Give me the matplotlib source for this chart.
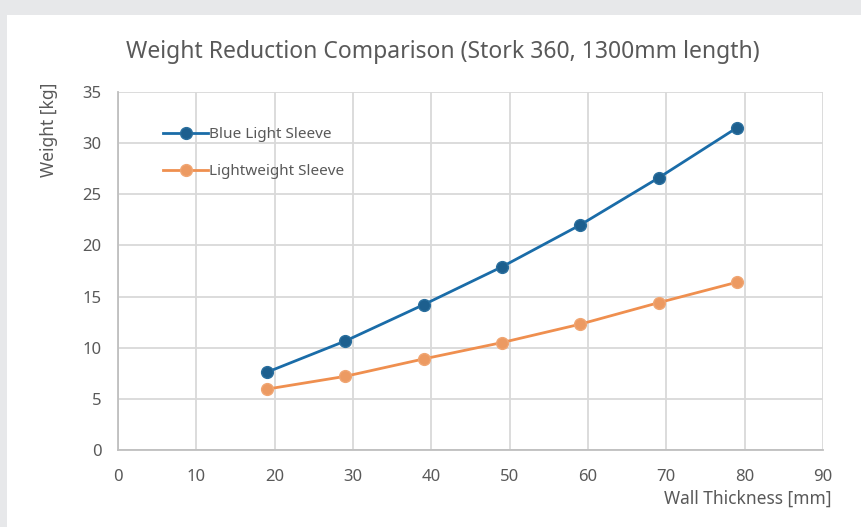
import numpy as np
import matplotlib.pyplot as plt
from matplotlib.patches import Rectangle

# wall thickness values and weights
wall_thickness = [19, 29, 39, 49, 59, 69, 79]
blue_light = [7.6, 10.65, 14.2, 17.9, 22.0, 26.6, 31.5]
lightweight = [5.95, 7.2, 8.9, 10.5, 12.3, 14.4, 16.4]

x_ticks = np.arange(0, 91, 10)
y_ticks = np.arange(0, 36, 5)

plt.rcParams['font.family'] = ['Noto Sans', 'DejaVu Sans']
text_col = '#595959'

fig = plt.figure(figsize=(8.61, 5.27), dpi=100, facecolor='#e7e8ea')
# white chart area inside gray frame
bg = Rectangle((7 / 861, 0), 1 - 7 / 861, 1 - 15 / 527,
               transform=fig.transFigure, facecolor='white',
               edgecolor='none', zorder=-10)
fig.add_artist(bg)

ax = fig.add_axes([118 / 861, 77 / 527, 705 / 861, 358 / 527])
ax.set_zorder(1)
ax.set_facecolor('white')

ax.plot(wall_thickness, blue_light, color='#1a6ca8', lw=2, marker='o',
        markersize=8.5, markerfacecolor='#1d5f8e', markeredgecolor='#2a6f9e',
        label='Blue Light Sleeve', zorder=3)
ax.plot(wall_thickness, lightweight, color='#ef8f4f', lw=2, marker='o',
        markersize=8.5, markerfacecolor='#ec9a62', markeredgecolor='#f0a673',
        label='Lightweight Sleeve', zorder=3)

ax.set_xlim(0, 90)
ax.set_ylim(0, 35)
ax.set_xticks(x_ticks)
ax.set_yticks(y_ticks)
ax.grid(color='#d9d9d9', lw=1.3)
ax.set_axisbelow(True)
for s in ['top', 'right']:
    ax.spines[s].set_visible(False)
for s in ['left', 'bottom']:
    ax.spines[s].set_color('#bfbfbf')
    ax.spines[s].set_linewidth(1.3)
ax.tick_params(length=0, labelsize=12, labelcolor=text_col)
ax.tick_params(axis='x', pad=14)
ax.tick_params(axis='y', pad=12)

# title centred on the whole chart area, not the axes
fig.text(443 / 861, 1 - 52 / 527,
         'Weight Reduction Comparison (Stork 360, 1300mm length)',
         fontsize=16.5, color=text_col, ha='center', va='center')

ax.set_xlabel('Wall Thickness [mm]', fontsize=12.5, color=text_col, loc='right')
ax.xaxis.set_label_coords(1.012, -0.11)
ax.set_ylabel('Weight [kg]', fontsize=12.5, color=text_col, loc='top')
ax.yaxis.set_label_coords(-0.085, 1.025)

leg = ax.legend(loc='upper left', bbox_to_anchor=(0.045, 0.94), frameon=False,
                fontsize=11, handlelength=2.9, handletextpad=0.1,
                labelspacing=1.45, labelcolor=text_col)

plt.savefig('out.png', dpi=100, facecolor=fig.get_facecolor())
